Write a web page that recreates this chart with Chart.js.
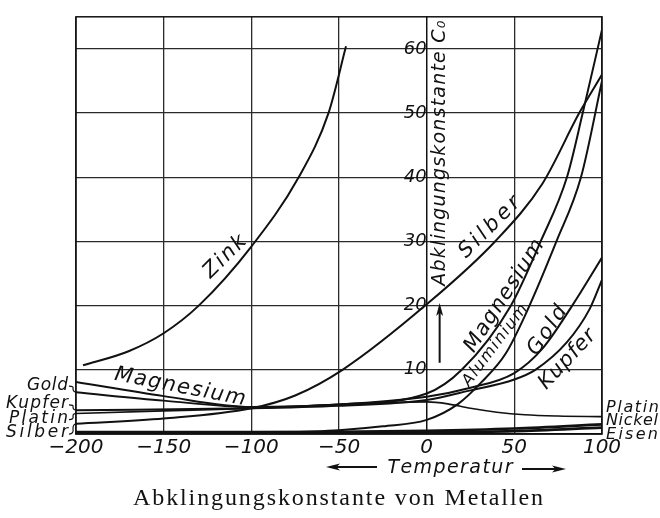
<!DOCTYPE html>
<html><head><meta charset="utf-8">
<script src="https://cdn.jsdelivr.net/npm/chart.js@4/dist/chart.umd.min.js"></script>
<style>html,body{margin:0;padding:0;background:#fff;}canvas{display:block;}</style>
</head><body>
<canvas id="c" width="660" height="518"></canvas>
<script>
// ---- axes ----
const xTicks = [-200, -150, -100, -50, 0, 50, 100];
const yTicks = [0, 10, 20, 30, 40, 50, 60];
const yMax = 65;

// ---- series (temperature °C, Abklingungskonstante C0) ----
const zinkT = [-196, -170, -150, -130, -100, -73, -56, -46];
const zinkC = [10.7, 12.9, 15.7, 20.0, 29.2, 40.0, 50.0, 60.4];

const silberT = [-200, -150, -100, -75, -48, 0, 39, 66, 87, 100];
const silberC = [1.6, 2.4, 4.0, 6.0, 10.0, 20.2, 30.0, 39.0, 50.0, 56.0];

const magnesiumT = [-200, -150, -100, -50, 0, 20, 48, 65, 80, 89, 100];
const magnesiumC = [8.1, 5.9, 4.2, 4.6, 6.3, 10.0, 20.0, 30.0, 40.0, 50.0, 63.0];

const aluminiumT = [-100, -50, -25, 0, 18, 31, 45, 57, 74, 88, 100];
const aluminiumC = [0.1, 0.6, 1.2, 2.2, 4.7, 8.0, 12.5, 19.0, 30.0, 40.0, 55.0];

const goldT = [-200, -150, -100, -50, 0, 25, 50, 66, 83, 100];
const goldC = [6.5, 5.2, 4.2, 4.6, 5.8, 7.2, 9.5, 13.3, 20.0, 27.5];

const kupferT = [-200, -100, -50, 0, 25, 50, 62, 80, 93, 100];
const kupferC = [3.7, 4.0, 4.4, 5.3, 6.8, 8.5, 10.0, 14.3, 19.5, 24.0];

const platinT = [-200, -150, -100, -50, 0, 12, 25, 40, 56, 75, 100];
const platinC = [3.2, 3.6, 4.0, 4.6, 5.0, 4.7, 4.0, 3.4, 3.0, 2.8, 2.7];

const nickelT = [-200, -100, -50, 0, 50, 100];
const nickelC = [0.3, 0.3, 0.35, 0.5, 0.85, 1.5];

const eisenT = [-200, -100, 0, 50, 100];
const eisenC = [0.15, 0.15, 0.25, 0.45, 1.0];

// ---- texts ----
const yTitle = 'Abklingungskonstante C\u2080';
const xTitle = 'Temperatur';
const caption = 'Abklingungskonstante von Metallen';

const ink = '#111';
const SANS = "'DejaVu Sans', 'Liberation Sans', sans-serif";
const SERIF = "'Liberation Serif', 'DejaVu Serif', serif";

function series(label, T, C, width) {
  return {
    label,
    data: T.map((t, i) => ({ x: t, y: C[i] })),
    borderColor: ink, borderWidth: width || 2, pointRadius: 0,
    fill: false, cubicInterpolationMode: 'monotone'
  };
}

// label placement (data coordinates + angle), kept apart from the data
const curveLabels = [
  { text: 'Zink', t: -115, c: 27.6, angle: -45, size: 21, len: 52 },
  { text: 'Silber', t: 36, c: 32.2, angle: -45, size: 21, len: 78 },
  { text: 'Magnesium', t: 44.4, c: 21.5, angle: -57, size: 21, len: 130 },
  { text: 'Aluminium', t: 39.0, c: 13.8, angle: -53, size: 16, len: 98 },
  { text: 'Gold', t: 69, c: 16.1, angle: -56, size: 21, len: 55 },
  { text: 'Kupfer', t: 80.3, c: 11.6, angle: -47, size: 21, len: 74 },
  { text: 'Magnesium', t: -140.7, c: 7.3, angle: 11, size: 21, len: 133 }
];
const leftLabels = [
  { text: 'Gold', c: 7.6, start: goldC[0], len: 41 },
  { text: 'Kupfer', c: 4.7, start: kupferC[0], len: 62 },
  { text: 'Platin', c: 2.4, start: platinC[0], len: 59 },
  { text: 'Silber', c: 0.15, start: silberC[0], len: 62 }
];
const rightLabels = [
  { text: 'Platin', c: 4.1, len: 53 },
  { text: 'Nickel', c: 2.0, len: 52 },
  { text: 'Eisen', c: -0.15, len: 52 }
];

function spaced(ctx, text, cx, cy, angleDeg, font, len, align) {
  ctx.save();
  ctx.translate(cx, cy);
  ctx.rotate(angleDeg * Math.PI / 180);
  ctx.font = font;
  ctx.textBaseline = 'middle';
  ctx.textAlign = 'left';
  const chars = Array.from(text);
  const widths = chars.map(ch => ctx.measureText(ch).width);
  const natural = widths.reduce((s, w) => s + w, 0);
  let extra = 0, drawn = natural;
  if (len && chars.length > 1) {
    if (natural > len) { ctx.scale(len / natural, 1); }
    else { extra = (len - natural) / (chars.length - 1); drawn = len; }
  }
  let xx = align === 'right' ? -drawn : align === 'left' ? 0 : -drawn / 2;
  chars.forEach((ch, i) => { ctx.fillText(ch, xx, 0); xx += widths[i] + extra; });
  ctx.restore();
}

function arrowHead(ctx, x, y, dirX, dirY, L, W) {
  const nx = -dirY, ny = dirX;
  ctx.beginPath();
  ctx.moveTo(x, y);
  ctx.lineTo(x - dirX * L + nx * W, y - dirY * L + ny * W);
  ctx.lineTo(x - dirX * L * 0.75, y - dirY * L * 0.75);
  ctx.lineTo(x - dirX * L - nx * W, y - dirY * L - ny * W);
  ctx.closePath();
  ctx.fill();
}

const decor = {
  id: 'decor',
  afterDraw(chart) {
    const { ctx, chartArea: a, scales: { x, y } } = chart;
    const px = t => x.getPixelForValue(t), py = c => y.getPixelForValue(c);
    ctx.save();
    ctx.strokeStyle = ink; ctx.fillStyle = ink;
    ctx.lineWidth = 1.5;
    ctx.strokeRect(a.left, a.top, a.right - a.left, a.bottom - a.top);

    curveLabels.forEach(l => spaced(ctx, l.text, px(l.t), py(l.c), l.angle, `italic ${l.size}px ${SANS}`, l.len));

    // left labels with leader strokes
    ctx.lineWidth = 1.2;
    leftLabels.forEach(l => {
      const yy = py(l.c);
      spaced(ctx, l.text, a.left - 8, yy, 0, `italic 17px ${SANS}`, l.len, 'right');
      const y2 = py(l.start);
      ctx.beginPath();
      ctx.moveTo(a.left - 7, yy + 1);
      ctx.quadraticCurveTo(a.left - 2, yy + 1, a.left - 3, (yy + y2) / 2);
      ctx.quadraticCurveTo(a.left - 3, y2, a.left + 1, y2);
      ctx.stroke();
    });
    rightLabels.forEach(l => spaced(ctx, l.text, a.right + 4, py(l.c), 0, `italic 16px ${SANS}`, l.len, 'left'));

    // y title and arrow
    spaced(ctx, yTitle, px(7.4), py(43.75), -90, `italic 19px ${SANS}`, 265);
    ctx.lineWidth = 2;
    ctx.beginPath();
    ctx.moveTo(px(7.4), py(11.1));
    ctx.lineTo(px(7.4), py(19));
    ctx.stroke();
    arrowHead(ctx, px(7.4), py(20.4), 0, -1, 13, 3.5);

    // x title with arrows
    const ty = a.bottom + 34;
    spaced(ctx, xTitle, 450, ty, 0, `italic 19px ${SANS}`, 125);
    ctx.lineWidth = 1.8;
    ctx.beginPath(); ctx.moveTo(377, ty - 1); ctx.lineTo(334, ty - 1); ctx.stroke();
    arrowHead(ctx, 326, ty - 1, -1, 0, 14, 3.5);
    ctx.beginPath(); ctx.moveTo(522, ty + 1); ctx.lineTo(558, ty + 1); ctx.stroke();
    arrowHead(ctx, 566, ty + 1, 1, 0, 14, 3.5);

    // caption
    spaced(ctx, caption, 338, a.bottom + 65, 0, `24px ${SERIF}`, 410);
    ctx.restore();
  }
};

const fmt = v => (v < 0 ? '\u2212' + Math.abs(v) : String(v));

new Chart(document.getElementById('c'), {
  type: 'line',
  data: {
    datasets: [
      series('Zink', zinkT, zinkC),
      series('Silber', silberT, silberC),
      series('Magnesium', magnesiumT, magnesiumC),
      series('Aluminium', aluminiumT, aluminiumC),
      series('Gold', goldT, goldC),
      series('Kupfer', kupferT, kupferC),
      series('Platin', platinT, platinC, 1.6),
      series('Nickel', nickelT, nickelC, 2.6),
      series('Eisen', eisenT, eisenC, 2.6)
    ]
  },
  options: {
    responsive: false, animation: false, devicePixelRatio: 1,
    layout: { padding: { left: 76, right: 58, top: 9, bottom: 56 } },
    plugins: { legend: { display: false }, tooltip: { enabled: false } },
    scales: {
      x: {
        type: 'linear', min: xTicks[0], max: xTicks[xTicks.length - 1],
        afterBuildTicks: s => { s.ticks = xTicks.map(v => ({ value: v })); },
        ticks: { color: ink, padding: 2, maxRotation: 0, font: { family: SANS, size: 20, style: 'italic' }, callback: v => fmt(v) },
        grid: { color: '#2a2a2a', lineWidth: 1.3, drawTicks: false },
        border: { color: ink, width: 1.5 }
      },
      y: {
        type: 'linear', min: 0, max: yMax, position: { x: 0 },
        afterBuildTicks: s => { s.ticks = yTicks.map(v => ({ value: v })); },
        ticks: { color: ink, padding: 6, font: { family: SANS, size: 18, style: 'italic' }, callback: v => (v === 0 ? '' : String(v)) },
        grid: { color: '#2a2a2a', lineWidth: 1.3, drawTicks: false },
        border: { color: ink, width: 1.3 }
      }
    }
  },
  plugins: [decor]
});
</script>
</body></html>
